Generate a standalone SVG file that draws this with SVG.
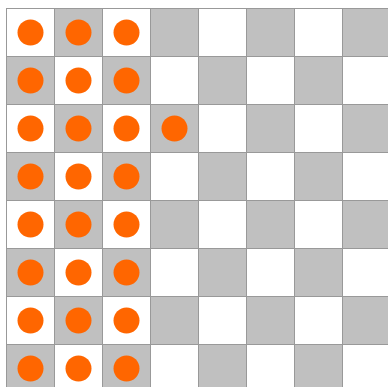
<svg xmlns="http://www.w3.org/2000/svg" width="388" height="387" viewBox="0 0 388 387">
<defs>
<style>
.w{fill:#ffffff;stroke:#999999;stroke-width:1}
.g{fill:#c0c0c0;stroke:#999999;stroke-width:1}
.p{fill:#ff6600}
</style>
</defs>
<rect width="388" height="387" fill="#ffffff"/>
<g id="board">
<g id="row0"><rect class="w" x="6.5" y="8.5" width="48" height="48"/><rect class="g" x="54.5" y="8.5" width="48" height="48"/><rect class="w" x="102.5" y="8.5" width="48" height="48"/><rect class="g" x="150.5" y="8.5" width="48" height="48"/><rect class="w" x="198.5" y="8.5" width="48" height="48"/><rect class="g" x="246.5" y="8.5" width="48" height="48"/><rect class="w" x="294.5" y="8.5" width="48" height="48"/><rect class="g" x="342.5" y="8.5" width="48" height="48"/></g>
<g id="row1"><rect class="g" x="6.5" y="56.5" width="48" height="48"/><rect class="w" x="54.5" y="56.5" width="48" height="48"/><rect class="g" x="102.5" y="56.5" width="48" height="48"/><rect class="w" x="150.5" y="56.5" width="48" height="48"/><rect class="g" x="198.5" y="56.5" width="48" height="48"/><rect class="w" x="246.5" y="56.5" width="48" height="48"/><rect class="g" x="294.5" y="56.5" width="48" height="48"/><rect class="w" x="342.5" y="56.5" width="48" height="48"/></g>
<g id="row2"><rect class="w" x="6.5" y="104.5" width="48" height="48"/><rect class="g" x="54.5" y="104.5" width="48" height="48"/><rect class="w" x="102.5" y="104.5" width="48" height="48"/><rect class="g" x="150.5" y="104.5" width="48" height="48"/><rect class="w" x="198.5" y="104.5" width="48" height="48"/><rect class="g" x="246.5" y="104.5" width="48" height="48"/><rect class="w" x="294.5" y="104.5" width="48" height="48"/><rect class="g" x="342.5" y="104.5" width="48" height="48"/></g>
<g id="row3"><rect class="g" x="6.5" y="152.5" width="48" height="48"/><rect class="w" x="54.5" y="152.5" width="48" height="48"/><rect class="g" x="102.5" y="152.5" width="48" height="48"/><rect class="w" x="150.5" y="152.5" width="48" height="48"/><rect class="g" x="198.5" y="152.5" width="48" height="48"/><rect class="w" x="246.5" y="152.5" width="48" height="48"/><rect class="g" x="294.5" y="152.5" width="48" height="48"/><rect class="w" x="342.5" y="152.5" width="48" height="48"/></g>
<g id="row4"><rect class="w" x="6.5" y="200.5" width="48" height="48"/><rect class="g" x="54.5" y="200.5" width="48" height="48"/><rect class="w" x="102.5" y="200.5" width="48" height="48"/><rect class="g" x="150.5" y="200.5" width="48" height="48"/><rect class="w" x="198.5" y="200.5" width="48" height="48"/><rect class="g" x="246.5" y="200.5" width="48" height="48"/><rect class="w" x="294.5" y="200.5" width="48" height="48"/><rect class="g" x="342.5" y="200.5" width="48" height="48"/></g>
<g id="row5"><rect class="g" x="6.5" y="248.5" width="48" height="48"/><rect class="w" x="54.5" y="248.5" width="48" height="48"/><rect class="g" x="102.5" y="248.5" width="48" height="48"/><rect class="w" x="150.5" y="248.5" width="48" height="48"/><rect class="g" x="198.5" y="248.5" width="48" height="48"/><rect class="w" x="246.5" y="248.5" width="48" height="48"/><rect class="g" x="294.5" y="248.5" width="48" height="48"/><rect class="w" x="342.5" y="248.5" width="48" height="48"/></g>
<g id="row6"><rect class="w" x="6.5" y="296.5" width="48" height="48"/><rect class="g" x="54.5" y="296.5" width="48" height="48"/><rect class="w" x="102.5" y="296.5" width="48" height="48"/><rect class="g" x="150.5" y="296.5" width="48" height="48"/><rect class="w" x="198.5" y="296.5" width="48" height="48"/><rect class="g" x="246.5" y="296.5" width="48" height="48"/><rect class="w" x="294.5" y="296.5" width="48" height="48"/><rect class="g" x="342.5" y="296.5" width="48" height="48"/></g>
<g id="row7"><rect class="g" x="6.5" y="344.5" width="48" height="48"/><rect class="w" x="54.5" y="344.5" width="48" height="48"/><rect class="g" x="102.5" y="344.5" width="48" height="48"/><rect class="w" x="150.5" y="344.5" width="48" height="48"/><rect class="g" x="198.5" y="344.5" width="48" height="48"/><rect class="w" x="246.5" y="344.5" width="48" height="48"/><rect class="g" x="294.5" y="344.5" width="48" height="48"/><rect class="w" x="342.5" y="344.5" width="48" height="48"/></g>
</g>
<g id="pieces">
<circle class="p" cx="30.5" cy="32.5" r="13"/><circle class="p" cx="78.5" cy="32.5" r="13"/><circle class="p" cx="126.5" cy="32.5" r="13"/>
<circle class="p" cx="30.5" cy="80.5" r="13"/><circle class="p" cx="78.5" cy="80.5" r="13"/><circle class="p" cx="126.5" cy="80.5" r="13"/>
<circle class="p" cx="30.5" cy="128.5" r="13"/><circle class="p" cx="78.5" cy="128.5" r="13"/><circle class="p" cx="126.5" cy="128.5" r="13"/><circle class="p" cx="174.5" cy="128.5" r="13"/>
<circle class="p" cx="30.5" cy="176.5" r="13"/><circle class="p" cx="78.5" cy="176.5" r="13"/><circle class="p" cx="126.5" cy="176.5" r="13"/>
<circle class="p" cx="30.5" cy="224.5" r="13"/><circle class="p" cx="78.5" cy="224.5" r="13"/><circle class="p" cx="126.5" cy="224.5" r="13"/>
<circle class="p" cx="30.5" cy="272.5" r="13"/><circle class="p" cx="78.5" cy="272.5" r="13"/><circle class="p" cx="126.5" cy="272.5" r="13"/>
<circle class="p" cx="30.5" cy="320.5" r="13"/><circle class="p" cx="78.5" cy="320.5" r="13"/><circle class="p" cx="126.5" cy="320.5" r="13"/>
<circle class="p" cx="30.5" cy="368.5" r="13"/><circle class="p" cx="78.5" cy="368.5" r="13"/><circle class="p" cx="126.5" cy="368.5" r="13"/>
</g>
</svg>
